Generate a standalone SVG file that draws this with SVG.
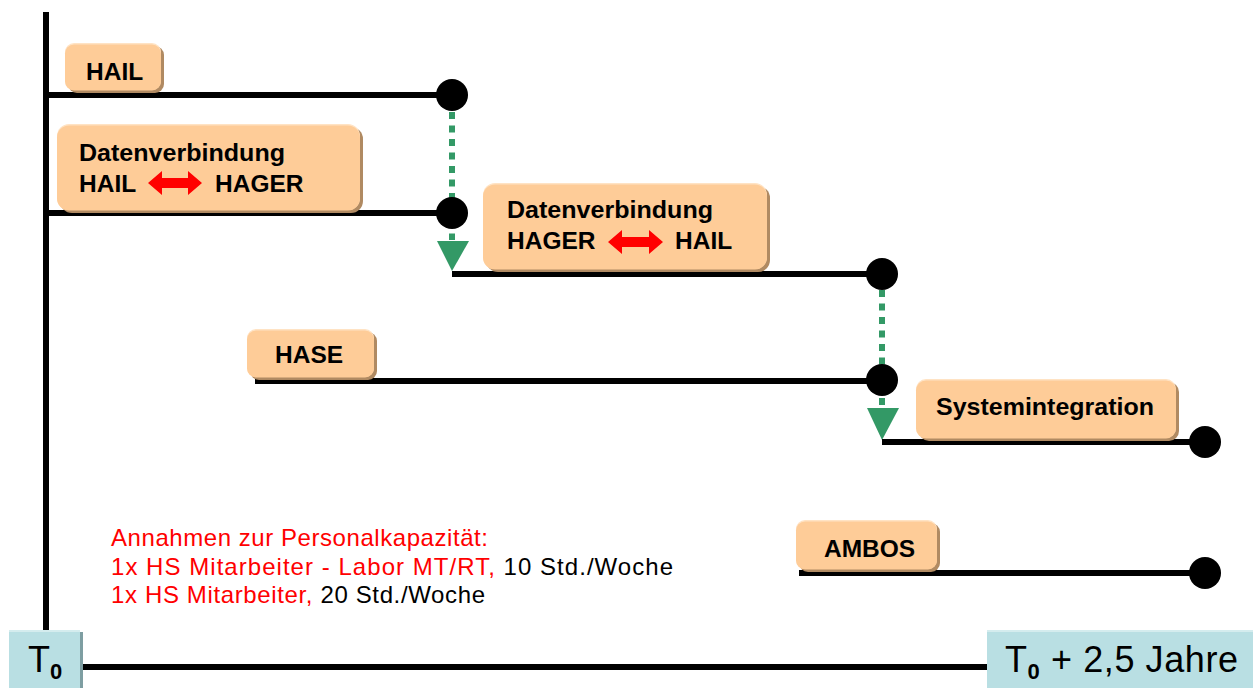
<svg xmlns="http://www.w3.org/2000/svg" width="1255" height="688" viewBox="0 0 1255 688">
<style>
.box{fill:#FECC98}
.sh{fill:#B08A62}
.hl{fill:#FFE3C4}
.lbl{font-family:"Liberation Sans",Arial,sans-serif;font-weight:bold;font-size:24.5px;fill:#000}
.ln{stroke:#000;stroke-width:6;fill:none}
.dot{fill:#000}
.dash{stroke:#339966;stroke-width:6;stroke-dasharray:7 6.5;fill:none}
.tri{fill:#339966}
.arr{fill:#FF0000}
.note{font-family:"Liberation Sans",Arial,sans-serif;font-size:24px}
.red{fill:#FF0000}
.blk{fill:#000}
.tbox{fill:#B9DFE3}
.tsh{fill:#7E9EA2}
.ttxt{font-family:"Liberation Sans",Arial,sans-serif;font-size:36px;fill:#000}
</style>
<g id="connectors">
<line class="ln" x1="46" y1="12" x2="46" y2="631"/>
<line class="ln" x1="46" y1="95" x2="452" y2="95"/>
<line class="ln" x1="46" y1="213" x2="452" y2="213"/>
<line class="dash" x1="452" y1="112" x2="452" y2="240"/>
<polygon class="tri" points="437,241 469,241 452,271"/>
<line class="ln" x1="452" y1="274" x2="882" y2="274"/>
<line class="dash" x1="882" y1="290" x2="882" y2="407"/>
<polygon class="tri" points="867,408 899,408 882,440"/>
<line class="ln" x1="255" y1="381" x2="882" y2="381"/>
<line class="ln" x1="882" y1="442" x2="1205" y2="442"/>
<line class="ln" x1="799" y1="573" x2="1205" y2="573"/>
<line class="ln" x1="82" y1="667" x2="988" y2="667"/>
<circle class="dot" cx="452" cy="95" r="16"/>
<circle class="dot" cx="452" cy="213" r="16"/>
<circle class="dot" cx="882" cy="274" r="16"/>
<circle class="dot" cx="882" cy="380" r="16"/>
<circle class="dot" cx="1205" cy="442" r="16"/>
<circle class="dot" cx="1205" cy="573" r="16"/>
</g>
<g id="hail">
<rect class="sh" x="68" y="46" width="96" height="47" rx="9"/>
<rect class="hl" x="65" y="43" width="96" height="47" rx="9"/>
<rect class="box" x="65" y="44.5" width="96" height="46" rx="9"/>
<text class="lbl" x="86" y="80">HAIL</text>
</g>
<g id="datenverbindung1">
<rect class="sh" x="60" y="127" width="303" height="86" rx="12"/>
<rect class="hl" x="57" y="124" width="303" height="86" rx="12"/>
<rect class="box" x="57" y="125.5" width="303" height="85" rx="12"/>
<text class="lbl" x="79" y="161" textLength="206" lengthAdjust="spacingAndGlyphs">Datenverbindung</text>
<text class="lbl" x="79" y="192">HAIL</text>
<path class="arr" d="M148,183 L162,171 L162,178 L188,178 L188,171 L202,183 L188,195 L188,188 L162,188 L162,195 Z"/>
<text class="lbl" x="215" y="192">HAGER</text>
</g>
<g id="datenverbindung2">
<rect class="sh" x="486" y="186" width="284" height="86" rx="12"/>
<rect class="hl" x="483" y="183" width="284" height="86" rx="12"/>
<rect class="box" x="483" y="184.5" width="284" height="85" rx="12"/>
<text class="lbl" x="507" y="218" textLength="206" lengthAdjust="spacingAndGlyphs">Datenverbindung</text>
<text class="lbl" x="507" y="249">HAGER</text>
<path class="arr" d="M608,242 L622,230 L622,237 L649,237 L649,230 L663,242 L649,254 L649,247 L622,247 L622,254 Z"/>
<text class="lbl" x="675" y="249">HAIL</text>
</g>
<g id="hase">
<rect class="sh" x="250" y="332" width="127" height="48" rx="9"/>
<rect class="hl" x="247" y="329" width="127" height="48" rx="9"/>
<rect class="box" x="247" y="330.5" width="127" height="47" rx="9"/>
<text class="lbl" x="275" y="363">HASE</text>
</g>
<g id="systemintegration">
<rect class="sh" x="919" y="382" width="260" height="59" rx="10"/>
<rect class="hl" x="916" y="379" width="260" height="59" rx="10"/>
<rect class="box" x="916" y="380.5" width="260" height="58" rx="10"/>
<text class="lbl" x="936" y="415" textLength="218" lengthAdjust="spacingAndGlyphs">Systemintegration</text>
</g>
<g id="ambos">
<rect class="sh" x="799" y="523" width="141" height="49" rx="9"/>
<rect class="hl" x="796" y="520" width="141" height="49" rx="9"/>
<rect class="box" x="796" y="521.5" width="141" height="48" rx="9"/>
<text class="lbl" x="824" y="557">AMBOS</text>
</g>
<g id="annahmen">
<text class="note red" x="111" y="546" textLength="377" lengthAdjust="spacing">Annahmen zur Personalkapazität:</text>
<text class="note" x="111" y="575" textLength="562" lengthAdjust="spacing"><tspan class="red">1x HS Mitarbeiter - Labor MT/RT,</tspan><tspan class="blk"> 10 Std./Woche</tspan></text>
<text class="note" x="111" y="603" textLength="374" lengthAdjust="spacing"><tspan class="red">1x HS Mitarbeiter,</tspan><tspan class="blk"> 20 Std./Woche</tspan></text>
</g>
<g id="t0">
<rect class="tsh" x="12" y="632" width="71" height="56"/>
<rect fill="#D4ECEE" x="9" y="630" width="71" height="58"/>
<rect class="tbox" x="9" y="632" width="71" height="56"/>
<text class="ttxt" x="28" y="672">T<tspan font-weight="bold" font-size="22" dy="7">0</tspan></text>
</g>
<g id="t0end">
<rect fill="#D4ECEE" x="987" y="630" width="266" height="58"/>
<rect class="tbox" x="987" y="632" width="266" height="56"/>
<text class="ttxt" x="1005" y="672" textLength="233" lengthAdjust="spacing">T<tspan font-weight="bold" font-size="22" dy="7">0</tspan><tspan dy="-7"> + 2,5 Jahre</tspan></text>
</g>
</svg>
